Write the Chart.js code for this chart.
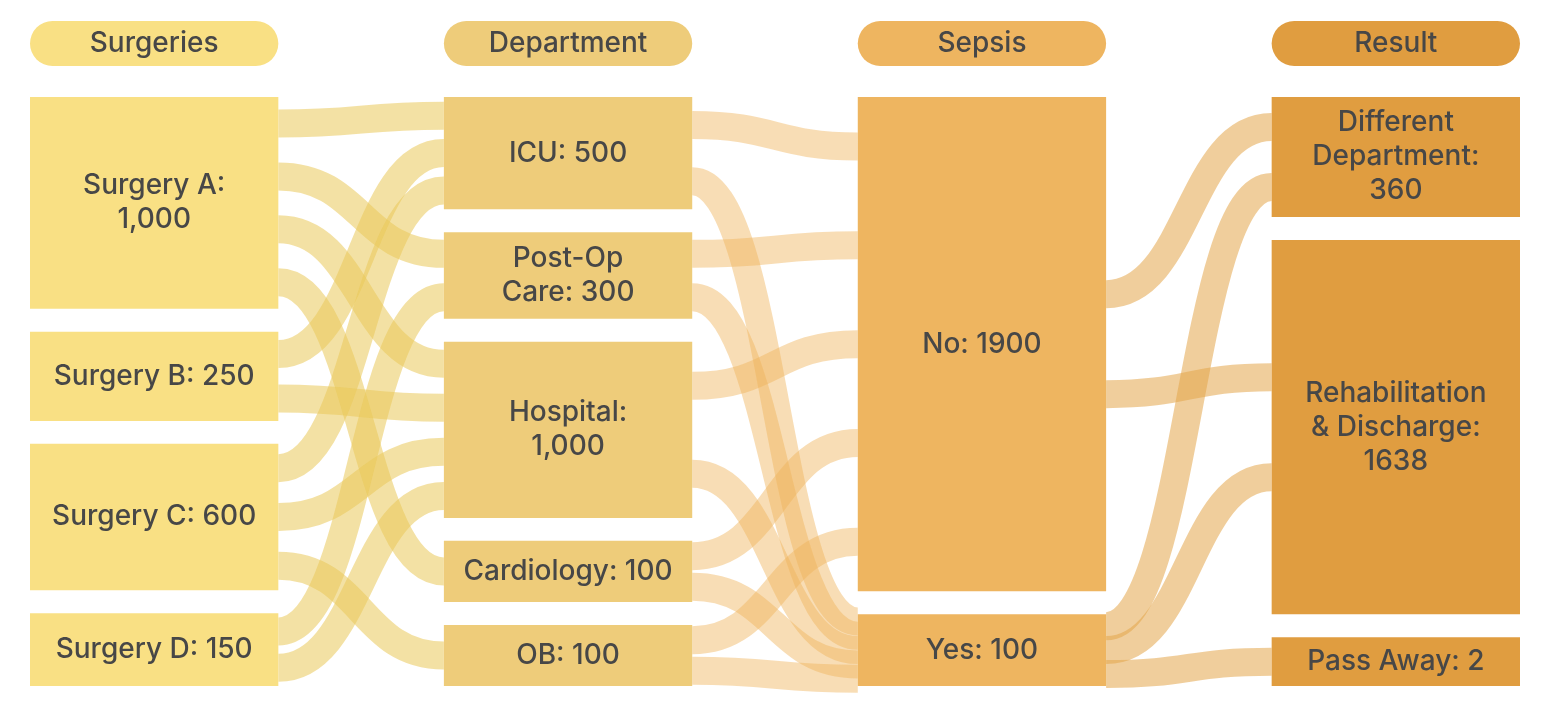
<!DOCTYPE html>
<html lang="en">
<head>
<meta charset="UTF-8">
<title>Surgery outcomes</title>
<script src="https://cdn.jsdelivr.net/npm/chart.js"></script>
<style>
  body { margin: 0; background: #fff; }
  #wrap { width: 1550px; height: 714px; }
</style>
</head>
<body>
<div id="wrap"><canvas id="flow" width="1550" height="714"></canvas></div>
<script>
// stages (columns)
const stageTitles = ['Surgeries', 'Department', 'Sepsis', 'Result'];

// nodes per stage
const surgeryNames = ['Surgery A', 'Surgery B', 'Surgery C', 'Surgery D'];
const surgeryValues = [1000, 250, 600, 150];
const surgeryLabels = [['Surgery A:', '1,000'], ['Surgery B: 250'], ['Surgery C: 600'], ['Surgery D: 150']];

const departmentNames = ['ICU', 'Post-Op Care', 'Hospital', 'Cardiology', 'OB'];
const departmentValues = [500, 300, 1000, 100, 100];
const departmentLabels = [['ICU: 500'], ['Post-Op', 'Care: 300'], ['Hospital:', '1,000'], ['Cardiology: 100'], ['OB: 100']];

const sepsisNames = ['No', 'Yes'];
const sepsisValues = [1900, 100];
const sepsisLabels = [['No: 1900'], ['Yes: 100']];

const resultNames = ['Different Department', 'Rehabilitation & Discharge', 'Pass Away'];
const resultValues = [360, 1638, 2];
const resultLabels = [['Different', 'Department:', '360'], ['Rehabilitation', '& Discharge:', '1638'], ['Pass Away: 2']];

// flows: [from index, to index, value]
const surgeryToDepartment = [
  [0, 0, 250], [0, 1, 200], [0, 2, 450], [0, 3, 100],
  [1, 0, 100], [1, 2, 150],
  [2, 0, 150], [2, 2, 350], [2, 4, 100],
  [3, 1, 100], [3, 2, 50]
];
const departmentToSepsis = [
  [0, 0, 470], [0, 1, 30],
  [1, 0, 280], [1, 1, 20],
  [2, 0, 970], [2, 1, 30],
  [3, 0, 90], [3, 1, 10],
  [4, 0, 90], [4, 1, 10]
];
const sepsisToResult = [
  [0, 0, 320], [0, 1, 1580],
  [1, 0, 40], [1, 1, 58], [1, 2, 2]
];

const stageValues = [surgeryValues, departmentValues, sepsisValues, resultValues];
const stageLabels = [surgeryLabels, departmentLabels, sepsisLabels, resultLabels];
const flowSets = [surgeryToDepartment, departmentToSepsis, sepsisToResult];

const nodeColors = ['#F9E084', '#EECC7A', '#EEB560', '#E09D40'];
const linkColors = ['rgba(233, 200, 90, 0.55)', 'rgba(240, 180, 90, 0.45)', 'rgba(228, 165, 75, 0.55)'];
const textColor = '#474747';
const FONT = '500 28px Inter, sans-serif';

const GAP = 3.9;       // gap between nodes, y units (column = 100)
const MIN_NODE = 8.2;  // smallest node height, y units
const LINK_WIDTH = 28; // px
const SLOT_MAX = 100;  // max spacing between link ends on a node, px

// stack nodes of one stage: min height + share of the rest by value
function stack(values) {
  const total = values.reduce((a, b) => a + b, 0);
  const free = 100 - GAP * (values.length - 1) - MIN_NODE * values.length;
  let y = 0;
  return values.map(v => {
    const h = MIN_NODE + free * v / total;
    const r = [y, y + h];
    y += h + GAP;
    return r;
  });
}

function slotY(bar, i, n) {
  const top = Math.min(bar.y, bar.base);
  const bottom = Math.max(bar.y, bar.base);
  const step = Math.min((bottom - top) / n, SLOT_MAX);
  return (top + bottom) / 2 + (i - (n - 1) / 2) * step;
}

const linksPlugin = {
  id: 'links',
  beforeDatasetsDraw(chart) {
    const ctx = chart.ctx;
    flowSets.forEach((flows, s) => {
      const src = chart.getDatasetMeta(s).data;
      const dst = chart.getDatasetMeta(s + 1).data;
      ctx.save();
      ctx.lineWidth = LINK_WIDTH;
      ctx.lineCap = 'butt';
      ctx.strokeStyle = linkColors[s];
      flows.forEach(f => {
        const outs = flows.filter(g => g[0] === f[0]).sort((a, b) => a[1] - b[1]);
        const ins = flows.filter(g => g[1] === f[1]).sort((a, b) => a[0] - b[0]);
        const a = src[f[0]], b = dst[f[1]];
        const x0 = a.x + a.width / 2, x1 = b.x - b.width / 2;
        const y0 = slotY(a, outs.indexOf(f), outs.length);
        const y1 = slotY(b, ins.indexOf(f), ins.length);
        const xm = (x0 + x1) / 2;
        ctx.beginPath();
        ctx.moveTo(x0, y0);
        ctx.bezierCurveTo(xm, y0, xm, y1, x1, y1);
        ctx.stroke();
      });
      ctx.restore();
    });
  }
};

const labelsPlugin = {
  id: 'nodeLabels',
  afterDatasetsDraw(chart) {
    const ctx = chart.ctx;
    ctx.save();
    ctx.font = FONT;
    ctx.fillStyle = textColor;
    ctx.textAlign = 'center';
    ctx.textBaseline = 'middle';
    const lh = 34;
    stageLabels.forEach((labels, s) => {
      chart.getDatasetMeta(s).data.forEach((bar, i) => {
        const lines = labels[i];
        const cy = (bar.y + bar.base) / 2;
        lines.forEach((t, k) => {
          ctx.fillText(t, bar.x, cy + (k - (lines.length - 1) / 2) * lh);
        });
      });
    });
    ctx.restore();
  },
  afterDraw(chart) {
    // stage headers
    const ctx = chart.ctx;
    const top = chart.chartArea.top;
    ctx.save();
    ctx.font = FONT;
    ctx.textAlign = 'center';
    ctx.textBaseline = 'middle';
    stageTitles.forEach((t, s) => {
      const bar = chart.getDatasetMeta(s).data[0];
      const left = bar.x - bar.width / 2;
      ctx.fillStyle = nodeColors[s];
      ctx.beginPath();
      ctx.roundRect(left, top - 76, bar.width, 45, 22.5);
      ctx.fill();
      ctx.fillStyle = textColor;
      ctx.fillText(t, bar.x, top - 53.5);
    });
    ctx.restore();
  }
};

new Chart(document.getElementById('flow'), {
  type: 'bar',
  data: {
    datasets: stageValues.map((vals, s) => ({
      label: stageTitles[s],
      data: stack(vals).map(r => ({ x: s, y: r })),
      backgroundColor: nodeColors[s],
      borderWidth: 0,
      grouped: false,
      barPercentage: 0.6,
      categoryPercentage: 1
    }))
  },
  options: {
    responsive: false,
    devicePixelRatio: 1,
    animation: false,
    layout: { padding: { top: 97, bottom: 28, left: 30, right: 30 } },
    scales: {
      x: { type: 'linear', min: -0.3, max: 3.3, offset: false, display: false, ticks: { stepSize: 1, includeBounds: false } },
      y: { type: 'linear', min: 0, max: 100, reverse: true, display: false }
    },
    plugins: {
      legend: { display: false },
      tooltip: { enabled: false }
    }
  },
  plugins: [linksPlugin, labelsPlugin]
});
</script>
</body>
</html>
